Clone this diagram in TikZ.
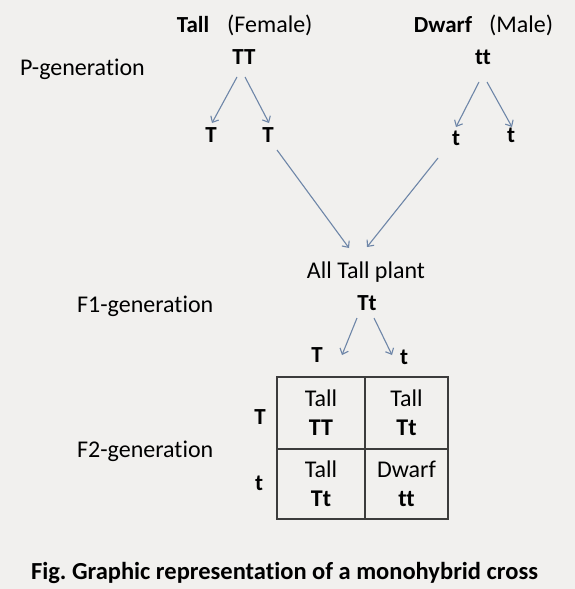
\documentclass[tikz,border=0pt]{standalone}
\usepackage{fontspec}
\setmainfont{Carlito}[Ligatures=NoCommon]
\frenchspacing
\usetikzlibrary{arrows.meta}
\definecolor{bgcol}{RGB}{241,240,238}
\definecolor{arrcol}{RGB}{110,134,168}
\definecolor{gridcol}{RGB}{60,60,60}
\tikzset{
  lbl/.style={font=\fontsize{24}{29}\selectfont, inner sep=0pt},
  gene/.style={font=\fontsize{23}{28}\selectfont\bfseries, inner sep=0pt},
  cell/.style={draw=gridcol, line width=1.3pt, align=center, inner sep=0pt,
    font=\fontsize{24}{29}\selectfont},
  arr/.style={color=arrcol, line width=1.1pt, -{Straight Barb[length=5pt,width=9pt]}}
}
\begin{document}
\begin{tikzpicture}[x=1pt,y=-1pt]
  \fill[bgcol] (0,0) rectangle (575,589);
  \useasboundingbox (0,0) rectangle (575,589);
  % parents
  \draw
    (193,25) node[gene] (tall){Tall}
    (227,25) node[lbl,anchor=west] (female){(Female)}
    (443,25) node[gene] (dwarf){Dwarf}
    (489,25) node[lbl,anchor=west] (male){(Male)}
    (244,57) node[gene] (TT){TT}
    (483,57) node[gene] (tt){tt}
    (20,69) node[lbl,anchor=west] (pgen){P-generation}
    (211,135) node[gene] (T1){T}
    (268,135) node[gene] (T2){T}
    (456,138) node[gene] (t1){t}
    (511,135) node[gene] (t2){t};
  % F1
  \draw
    (366,272) node[lbl] (alltall){All Tall plant}
    (367,303) node[gene] (Tt){Tt}
    (77,306) node[lbl,anchor=west] (fonegen){F1-generation}
    (317,355) node[gene] (T3){T}
    (404,357) node[gene] (t3){t};
  % F2
  \draw
    (77,451) node[lbl,anchor=west] (ftwogen){F2-generation}
    (260,417) node[gene] (Trow){T}
    (259,483) node[gene] (trow){t}
    (321,413) node[cell,minimum width=88pt,minimum height=72pt] (c11){Tall\\\textbf{TT}}
    (406.5,413) node[cell,minimum width=83pt,minimum height=72pt] (c12){Tall\\\textbf{Tt}}
    (321,484) node[cell,minimum width=88pt,minimum height=70pt] (c21){Tall\\\textbf{Tt}}
    (406.5,484) node[cell,minimum width=83pt,minimum height=70pt] (c22){Dwarf\\\textbf{tt}};
  \draw
    (284.5,573) node[gene,font=\fontsize{24.5}{29}\selectfont\bfseries] (caption){Fig. Graphic representation of a monohybrid cross};
  \begin{scope}[arr]
    \draw ([xshift=-7pt,yshift=-20pt]TT.center) to ([xshift=1pt,yshift=12pt]T1.center);
    \draw ([xshift=1pt,yshift=-20pt]TT.center) to ([xshift=1pt,yshift=12pt]T2.center);
    \draw ([xshift=-4pt,yshift=-25pt]tt.center) to ([yshift=11pt]t1.center);
    \draw ([xshift=4pt,yshift=-25pt]tt.center) to ([xshift=1pt,yshift=8pt]t2.center);
    \draw ([xshift=9pt,yshift=-15pt]T2.center) to ([xshift=-17pt,yshift=24pt]alltall.center);
    \draw ([xshift=-18pt,yshift=-20pt]t1.center) to ([xshift=1pt,yshift=25pt]alltall.center);
    \draw ([xshift=-10pt,yshift=-15pt]Tt.center) to ([xshift=25pt]T3.center);
    \draw ([xshift=7pt,yshift=-15pt]Tt.center) to ([xshift=-12pt,yshift=2pt]t3.center);
  \end{scope}
\end{tikzpicture}
\end{document}
